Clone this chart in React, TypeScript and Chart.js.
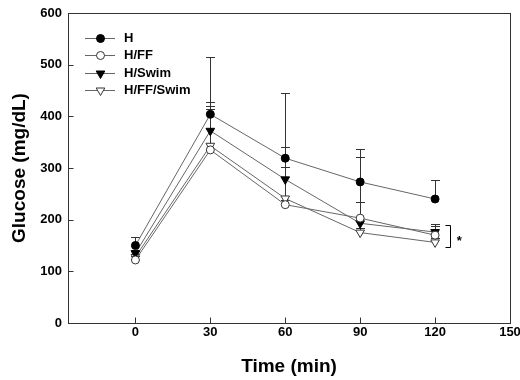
import React, { useEffect, useRef } from 'react';
import { Chart, registerables } from 'chart.js';
import { drawPoint } from 'chart.js/helpers';

Chart.register(...registerables);

// ---- data ----
const times = [0, 30, 60, 90, 120];
const xTickValues = [0, 30, 60, 90, 120, 150];
const yTickValues = [0, 100, 200, 300, 400, 500, 600];
const seriesNames = ['H', 'H/FF', 'H/Swim', 'H/FF/Swim'];
const hValues = [150, 404, 319, 273, 240];
const hErr = [16, 110, 126, 63, 37];
const hffValues = [122, 335, 229, 203, 170];
const hffErr = [8, 80, 10, 118, 17];
const hswimValues = [135, 372, 278, 193, 176];
const hswimErr = [7, 55, 63, 41, 15];
const hffswimValues = [128, 343, 241, 175, 156];
const hffswimErr = [6, 77, 60, 8, 8];
const sigLabel = '*';
const sigGlucoseRange = [147, 189];
const sigTimeRange = [124, 125.8];
const sigLabelAt = [129.7, 157];
const xTitle = 'Time (min)';
const yTitle = 'Glucose (mg/dL)';

const errors = [hErr, hffErr, hswimErr, hffswimErr];
const FONT = "'Liberation Sans', Arial, sans-serif";

const overlayPlugin = {
  id: 'overlay',
  beforeDatasetsDraw(chart: any) {
    const { ctx, scales } = chart;
    const x = scales.x;
    const y = scales.y;
    ctx.save();
    ctx.strokeStyle = '#333';
    ctx.lineWidth = 1;
    chart.data.datasets.forEach((ds: any, i: number) => {
      const errs = errors[i];
      ds.data.forEach((p: any, j: number) => {
        const px = Math.round(x.getPixelForValue(p.x)) + 0.5;
        const py = y.getPixelForValue(p.y);
        const pt = Math.round(y.getPixelForValue(p.y + errs[j])) + 0.5;
        ctx.beginPath();
        ctx.moveTo(px, py);
        ctx.lineTo(px, pt);
        ctx.moveTo(px - 4.5, pt);
        ctx.lineTo(px + 4.5, pt);
        ctx.stroke();
      });
    });
    ctx.restore();
  },
  afterDraw(chart: any) {
    const { ctx, chartArea: a, scales } = chart;
    const x = scales.x;
    const y = scales.y;
    ctx.save();
    // frame
    ctx.strokeStyle = '#333';
    ctx.lineWidth = 1;
    const l = Math.round(a.left) + 0.5;
    const r = Math.round(a.right) + 0.5;
    const t = Math.round(a.top) + 0.5;
    const b = Math.round(a.bottom) + 0.5;
    ctx.strokeRect(l, t, r - l, b - t);
    // inward ticks
    ctx.beginPath();
    yTickValues.forEach((v) => {
      const py = Math.round(y.getPixelForValue(v)) + 0.5;
      ctx.moveTo(l, py);
      ctx.lineTo(l + 5, py);
    });
    xTickValues.forEach((v) => {
      const px = Math.round(x.getPixelForValue(v)) + 0.5;
      ctx.moveTo(px, b);
      ctx.lineTo(px, b - 6);
    });
    ctx.stroke();

    // significance bracket
    const bx0 = Math.round(x.getPixelForValue(sigTimeRange[0])) + 0.5;
    const bx1 = Math.round(x.getPixelForValue(sigTimeRange[1])) + 0.5;
    const by0 = Math.round(y.getPixelForValue(sigGlucoseRange[0])) + 0.5;
    const by1 = Math.round(y.getPixelForValue(sigGlucoseRange[1])) + 0.5;
    ctx.strokeStyle = '#000';
    ctx.beginPath();
    ctx.moveTo(bx0, by1);
    ctx.lineTo(bx1, by1);
    ctx.lineTo(bx1, by0);
    ctx.lineTo(bx0, by0);
    ctx.stroke();
    ctx.fillStyle = '#000';
    ctx.font = `bold 13px ${FONT}`;
    ctx.textAlign = 'center';
    ctx.textBaseline = 'middle';
    ctx.fillText(sigLabel, x.getPixelForValue(sigLabelAt[0]), y.getPixelForValue(sigLabelAt[1]));

    // legend
    const lx0 = 85;
    const lx1 = 115;
    const mx = 100.5;
    const tx = 124;
    const rowY = [37.5, 55, 72.5, 90];
    chart.data.datasets.forEach((ds: any, i: number) => {
      const yy = rowY[i];
      ctx.strokeStyle = '#666';
      ctx.lineWidth = 1;
      ctx.beginPath();
      ctx.moveTo(lx0, Math.round(yy) + 0.5);
      ctx.lineTo(lx1, Math.round(yy) + 0.5);
      ctx.stroke();
      ctx.fillStyle = ds.pointBackgroundColor;
      ctx.strokeStyle = ds.pointBorderColor;
      ctx.lineWidth = 1;
      drawPoint(ctx, {
        pointStyle: ds.pointStyle,
        radius: ds.pointRadius,
        rotation: ds.pointRotation || 0,
        borderWidth: 1,
      } as any, mx, Math.round(yy) + 0.5);
      ctx.fillStyle = '#000';
      ctx.font = `bold 13px ${FONT}`;
      ctx.textAlign = 'left';
      ctx.textBaseline = 'middle';
      ctx.fillText(seriesNames[i], tx, yy + 0.5);
    });
    ctx.restore();
  },
};

function toPoints(vals: number[]) {
  return times.map((t, i) => ({ x: t, y: vals[i] }));
}

export default function App() {
  const ref = useRef<HTMLCanvasElement | null>(null);
  useEffect(() => {
    if (!ref.current) return;
    const common = {
      borderColor: '#666',
      borderWidth: 1,
      fill: false,
      tension: 0,
      pointBorderWidth: 1,
    };
    const chart = new Chart(ref.current, {
      type: 'line',
      data: {
        datasets: [
          { ...common, label: seriesNames[0], data: toPoints(hValues), pointStyle: 'circle', pointRadius: 4, pointBackgroundColor: '#000', pointBorderColor: '#000' },
          { ...common, label: seriesNames[1], data: toPoints(hffValues), pointStyle: 'circle', pointRadius: 4, pointBackgroundColor: '#fff', pointBorderColor: '#333' },
          { ...common, label: seriesNames[2], data: toPoints(hswimValues), pointStyle: 'triangle', pointRotation: 180, pointRadius: 5, pointBackgroundColor: '#000', pointBorderColor: '#000' },
          { ...common, label: seriesNames[3], data: toPoints(hffswimValues), pointStyle: 'triangle', pointRotation: 180, pointRadius: 5, pointBackgroundColor: '#fff', pointBorderColor: '#333' },
        ] as any,
      },
      options: {
        responsive: false,
        animation: false,
        layout: { padding: { top: 13, right: 10, left: 0, bottom: 0 } },
        plugins: { legend: { display: false }, tooltip: { enabled: false } },
        scales: {
          x: {
            type: 'linear',
            min: -27,
            max: 150,
            grid: { display: false, drawTicks: false },
            border: { display: false },
            afterBuildTicks: (s: any) => {
              s.ticks = xTickValues.map((v) => ({ value: v }));
            },
            afterFit: (s: any) => {
              s.height = 57;
              s.paddingLeft = 0;
              s.paddingRight = 0;
            },
            ticks: {
              padding: 2,
              color: '#000',
              font: { family: FONT, size: 13, weight: 'bold' },
              maxRotation: 0,
            },
            title: {
              display: true,
              text: xTitle,
              color: '#000',
              font: { family: FONT, size: 19, weight: 'bold' },
              padding: { top: 0, bottom: 2 },
            },
          },
          y: {
            min: 0,
            max: 600,
            grid: { display: false, drawTicks: false },
            border: { display: false },
            afterBuildTicks: (s: any) => {
              s.ticks = yTickValues.map((v) => ({ value: v }));
            },
            afterFit: (s: any) => {
              s.width = 68;
              s.paddingTop = 0;
              s.paddingBottom = 0;
            },
            ticks: {
              padding: 6,
              color: '#000',
              font: { family: FONT, size: 13, weight: 'bold' },
            },
            title: {
              display: true,
              text: yTitle,
              color: '#000',
              font: { family: FONT, size: 19, weight: 'bold' },
              padding: { top: 8, bottom: 0 },
            },
          },
        },
      } as any,
      plugins: [overlayPlugin],
    });
    return () => chart.destroy();
  }, []);
  return (
    <div style={{ position: 'absolute', left: 0, top: 0, width: 520, height: 380, background: '#fff' }}>
      <canvas ref={ref} width={520} height={380} />
    </div>
  );
}
